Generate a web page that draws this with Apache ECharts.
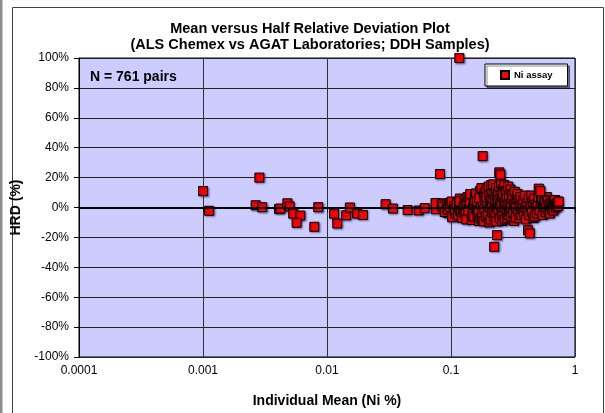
<!DOCTYPE html>
<html>
<head>
<meta charset="utf-8">
<script src="https://cdn.jsdelivr.net/npm/echarts@6/dist/echarts.min.js"></script>
<style>
html, body { margin: 0; padding: 0; background: #fff; }
#chart { width: 605px; height: 413px; }
</style>
</head>
<body>
<div id="chart"></div>
<script>
// tick labels
var xTickLabels = ['0.0001', '0.001', '0.01', '0.1', '1'];

// [individual mean Ni %, HRD %] - points below the main cluster
var lowRangePairs = [
  [0.001, 11], [0.00112, -2.2], [0.00266, 1.5], [0.00285, 20], [0.0030, 0.2],
  [0.0041, -1], [0.0042, -0.7], [0.00479, 2.8], [0.0050, 0.7], [0.00534, -4.1],
  [0.0061, -5.4], [0.00569, -10.2], [0.0079, -12.9], [0.0085, 0.2], [0.0114, -4.1],
  [0.0121, -10.7], [0.0143, -5.2], [0.0153, 0], [0.0175, -4.1], [0.0195, -5],
  [0.0297, 2.2], [0.034, -0.7], [0.0447, -1.7], [0.0548, -2], [0.0614, -0.4],
  [0.0753, -1.1], [0.075, 3], [0.0815, 22.4], [0.0873, 2.8], [0.095, -3.7]
];

// outliers around the main cluster
var outlierPairs = [
  [0.1167, 100], [0.18, 34.4], [0.245, 23.5], [0.25, 22], [0.235, -18.5],
  [0.223, -26.3], [0.418, -15.2], [0.432, -17.3], [0.51, 12.6], [0.525, 11]
];

// main cluster (0.085 - 0.75 Ni %)
var clusterPairs = [
  [0.084, 2], [0.088, -1], [0.086, 0.5], [0.091, -2],
  [0.093, 1], [0.089, -3], [0.097, 3], [0.095, 0],
  [0.099, 1.5], [0.094, -1.2],
  [0.102, -6.5], [0.098, 0.4], [0.104, 2.2], [0.107, -2.4], [0.101, 4],
  [0.109, -4], [0.106, 1], [0.112, 3.2], [0.108, -1],
  [0.114, -5], [0.111, 2], [0.118, 6], [0.116, 0], [0.119, -2.3],
  [0.121, -3], [0.117, 4.3], [0.124, -6], [0.127, 1],
  [0.123, -7], [0.129, 5], [0.126, 0.3], [0.131, 2.5], [0.128, -3.4],
  [0.134, 3], [0.131, -4.2], [0.136, 7], [0.139, -1],
  [0.133, -8], [0.141, 6.2], [0.144, 1.2], [0.138, -2], [0.142, 4],
  [0.147, -8.3], [0.143, 9], [0.151, 0], [0.149, -4.4], [0.153, 3],
  [0.156, 8], [0.152, -6], [0.158, 2], [0.161, -2.2], [0.155, 5],
  [0.159, 9.4], [0.164, -5], [0.166, 0.6], [0.162, 4.2], [0.168, -9],
  [0.171, 11], [0.167, -3], [0.174, 2.4], [0.173, -7], [0.169, 6.3],
  [0.178, -7.2], [0.176, 13], [0.181, 1], [0.179, -3.6], [0.184, 8.3],
  [0.187, 10.2], [0.183, -9.2], [0.189, 4.2], [0.186, -1.3],
  [0.193, 12], [0.191, -6], [0.196, 3], [0.199, -2], [0.194, 7],
  [0.201, 14], [0.198, -5.4], [0.204, 8], [0.207, 0], [0.203, -10], [0.209, 4.4],
  [0.212, 11.3], [0.208, -8], [0.214, 2], [0.217, 6], [0.215, -3], [0.211, 15],
  [0.219, 15.5], [0.222, -6.2], [0.224, 9], [0.226, 1.3], [0.221, -2.1], [0.227, 5.2],
  [0.231, 13], [0.229, -4], [0.234, 7.3], [0.236, 0], [0.232, -9.3], [0.238, 3.1],
  [0.239, 10], [0.242, -2.3], [0.241, 5],
  [0.244, 14.2], [0.247, -7], [0.249, 2.2], [0.251, 8],
  [0.253, 16], [0.256, -3], [0.258, 6], [0.255, 1.1], [0.259, -9],
  [0.262, 12.2], [0.264, -5.2], [0.267, 3], [0.263, 9],
  [0.269, 15], [0.272, -8], [0.271, 0.2], [0.274, 4], [0.276, 11],
  [0.279, 10.4], [0.282, -3.2], [0.281, 6], [0.285, -7], [0.286, 2],
  [0.289, 14], [0.292, -5], [0.294, 8], [0.296, 1], [0.298, -2],
  [0.302, 12], [0.305, -6], [0.308, 4], [0.306, 0], [0.311, 9],
  [0.314, 8], [0.318, -4], [0.321, 2], [0.323, -9],
  [0.327, 10.5], [0.333, -6.5], [0.331, 3], [0.336, 0], [0.339, 6],
  [0.344, 9], [0.348, -3], [0.352, 5], [0.356, -7], [0.359, 1],
  [0.364, 7], [0.369, -5], [0.372, 2], [0.378, -1],
  [0.383, 5], [0.389, -4], [0.394, 8], [0.398, 0], [0.403, -8],
  [0.409, 3], [0.414, -2],
  [0.423, 6], [0.427, -5], [0.438, 1],
  [0.444, 8], [0.449, -3], [0.455, 4], [0.461, -7],
  [0.468, 6], [0.474, -6], [0.481, 2], [0.488, 0],
  [0.495, -4], [0.503, 3], [0.508, 7],
  [0.518, -2], [0.532, 5],
  [0.541, 6], [0.548, -5], [0.556, 1], [0.563, 3],
  [0.571, 4], [0.578, -3], [0.586, 0], [0.593, 7],
  [0.601, 5], [0.611, -2], [0.619, 2], [0.628, -4],
  [0.636, 1.3], [0.645, 4], [0.653, -1],
  [0.662, 3], [0.671, -2], [0.68, 5],
  [0.69, 5], [0.699, 0], [0.708, 2],
  [0.717, 3], [0.728, 1], [0.739, 4]
];

var niData = lowRangePairs.concat(clusterPairs, outlierPairs);

var chart = echarts.init(document.getElementById('chart'));

var option = {
  animation: false,
  backgroundColor: '#fff',
  title: {
    text: 'Mean versus Half Relative Deviation Plot\n(ALS Chemex vs AGAT Laboratories; DDH Samples)',
    left: 310,
    textAlign: 'center',
    top: 21,
    padding: 0,
    textStyle: {
      fontFamily: 'Liberation Sans',
      fontSize: 14.5,
      fontWeight: 'bold',
      lineHeight: 16,
      color: '#000'
    }
  },
  legend: {
    data: ['Ni assay'],
    left: 485,
    top: 64,
    padding: [6, 15, 6, 15],
    itemWidth: 8,
    itemHeight: 8,
    icon: 'rect',
    backgroundColor: '#fff',
    borderColor: '#000',
    borderWidth: 1,
    shadowColor: 'rgba(0,0,0,0.45)',
    shadowOffsetX: 2,
    shadowOffsetY: 2,
    textStyle: {
      fontFamily: 'Liberation Sans',
      fontSize: 9.5,
      fontWeight: 'bold',
      color: '#000'
    }
  },
  grid: {
    left: 79,
    top: 58,
    width: 496,
    height: 306,
    show: true,
    backgroundColor: '#CCCCFF',
    borderColor: '#000',
    borderWidth: 1
  },
  xAxis: {
    type: 'log',
    logBase: 10,
    min: 0.0001,
    max: 1,
    name: 'Individual Mean (Ni %)',
    nameLocation: 'middle',
    nameGap: 37,
    nameTextStyle: {
      fontFamily: 'Liberation Sans',
      fontSize: 14,
      fontWeight: 'bold',
      color: '#000'
    },
    axisLine: { lineStyle: { color: '#000', width: 1 } },
    axisTick: { show: true, length: 5, lineStyle: { color: '#000' } },
    minorTick: { show: false },
    axisLabel: {
      fontFamily: 'Liberation Sans',
      fontSize: 12,
      color: '#000',
      margin: 8,
      formatter: function (v) {
        return xTickLabels[Math.round(Math.log10(v)) + 4];
      }
    },
    splitLine: { show: true, lineStyle: { color: '#333', width: 1 } }
  },
  yAxis: {
    type: 'value',
    min: -100,
    max: 100,
    interval: 20,
    name: 'HRD (%)',
    nameLocation: 'middle',
    nameGap: 46,
    nameRotate: 90,
    nameTextStyle: {
      fontFamily: 'Liberation Sans',
      fontSize: 14,
      fontWeight: 'bold',
      color: '#000'
    },
    axisLine: { show: true, lineStyle: { color: '#000', width: 1 } },
    axisTick: { show: true, length: 5, lineStyle: { color: '#000' } },
    axisLabel: {
      fontFamily: 'Liberation Sans',
      fontSize: 12,
      color: '#000',
      margin: 10,
      formatter: '{value}%'
    },
    splitLine: { show: true, lineStyle: { color: '#222', width: 1 } }
  },
  graphic: [
    {
      type: 'rect',
      shape: { x: 0, y: 0, width: 2.5, height: 413 },
      style: { fill: '#8c8c8c' },
      silent: true
    },
    {
      type: 'rect',
      shape: { x: 12.5, y: 7.5, width: 591, height: 440 },
      style: { fill: 'none', stroke: '#404040', lineWidth: 1 },
      silent: true
    },
    {
      type: 'text',
      left: 90,
      top: 70,
      style: {
        text: 'N = 761 pairs',
        fontFamily: 'Liberation Sans',
        fontSize: 14,
        fontWeight: 'bold',
        fill: '#000'
      },
      z: 10
    }
  ],
  series: [
    {
      name: 'zero',
      type: 'line',
      data: [],
      z: 1,
      silent: true,
      markLine: {
        silent: true,
        symbol: 'none',
        label: { show: false },
        lineStyle: { color: '#000', width: 2, type: 'solid' },
        data: [{ yAxis: 0 }]
      }
    },
    {
      name: 'Ni assay',
      type: 'scatter',
      symbol: 'rect',
      symbolSize: 9,
      z: 3,
      data: niData,
      itemStyle: {
        color: '#FF0000',
        borderColor: '#000',
        borderWidth: 1,
        opacity: 1,
        shadowColor: 'rgba(0,0,60,0.45)',
        shadowBlur: 2,
        shadowOffsetX: 1,
        shadowOffsetY: 1
      }
    }
  ]
};

chart.setOption(option);
</script>
</body>
</html>
